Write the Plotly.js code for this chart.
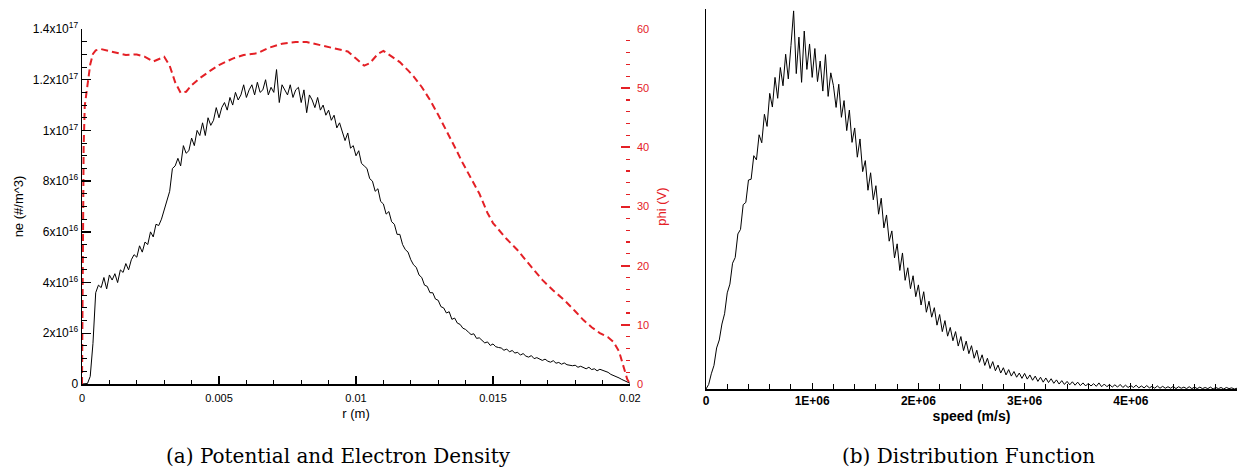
<!DOCTYPE html>
<html>
<head>
<meta charset="utf-8">
<script src="https://cdn.plot.ly/plotly-3.0.1.min.js"></script>
<style>
html,body{margin:0;padding:0;background:#fff;}
#chart{width:1239px;height:468px;}
</style>
</head>
<body>
<div id="chart"></div>
<script>
// ---------- (a) Potential and Electron Density ----------
// electron density, in units of 1e16 #/m^3, sampled every 0.0001 m from r = 0
const neStartR = 0;
const neStepR = 0.0001;
const neValues = [
0,0,0.02,0.3,1.6,3.6,3.9,3.8,4.2,3.75,
4.3,4.1,4.35,4.0,4.5,4.4,4.75,4.5,4.9,5.1,
5.0,5.45,5.2,5.6,5.5,6.0,5.8,6.3,6.25,6.5,
6.9,7.3,7.6,8.5,8.6,8.9,8.6,9.4,9.1,9.2,
9.7,9.4,10.0,9.8,10.3,9.8,10.5,10.2,10.4,10.9,
10.5,10.9,11.1,10.8,11.3,11.0,11.5,11.2,11.4,11.8,
11.3,11.6,11.8,11.4,11.9,11.5,11.6,12.0,11.4,11.7,
11.5,12.4,11.1,11.8,11.6,11.4,11.8,11.3,11.6,11.7,
11.1,11.6,10.7,11.4,11.2,10.9,11.3,10.8,11.0,10.6,
10.8,10.4,10.6,10.1,10.3,9.9,9.6,9.9,9.3,9.4,
9.0,9.2,8.7,8.6,8.5,8.1,8.0,7.6,7.7,7.2,
7.1,6.7,6.8,6.4,6.3,5.9,5.9,5.5,5.3,5.2,
4.9,4.7,4.6,4.3,4.2,3.9,3.85,3.6,3.6,3.35,
3.3,3.05,3.0,2.8,2.85,2.55,2.6,2.4,2.35,2.2,
2.15,2.05,1.95,1.98,1.8,1.82,1.7,1.62,1.66,1.52,
1.58,1.47,1.44,1.42,1.33,1.38,1.27,1.32,1.22,1.25,
1.14,1.2,1.1,1.06,1.12,1.0,1.04,0.98,0.93,0.98,
0.9,0.86,0.92,0.82,0.85,0.78,0.83,0.76,0.74,0.72,
0.74,0.66,0.7,0.64,0.6,0.66,0.57,0.6,0.52,0.58,
0.55,0.5,0.46,0.38,0.34,0.28,0.24,0.18,0.14,0.08,
0.03
];
// potential phi (V) vs r (m)
const phiR = [0,0.00003,0.00006,0.0001,0.0002,0.0003,0.0004,0.0005,0.0007,0.001,
0.0013,0.0016,0.002,0.0023,0.0026,0.0028,0.003,0.0032,0.0034,0.0036,
0.0038,0.004,0.0043,0.0047,0.005,0.0055,0.0059,0.0064,0.0068,0.0073,
0.0078,0.0082,0.0086,0.009,0.0094,0.0097,0.01,0.0103,0.0105,0.0108,
0.011,0.0113,0.0116,0.0119,0.0121,0.0124,0.0127,0.013,0.0133,0.0136,
0.0139,0.0142,0.0145,0.0148,0.015,0.0155,0.0159,0.0164,0.0168,0.0172,
0.0176,0.018,0.0183,0.0186,0.0189,0.0192,0.0194,0.0196,0.0197,0.0198,
0.0199,0.02];
const phiV = [0,20,40,47,51,54,55.8,56.4,56.6,56.3,
55.9,55.6,55.7,55.3,54.5,54.9,55.3,53.8,51.0,49.2,
49.4,50.5,51.7,53.0,53.9,55.0,55.6,55.9,56.8,57.5,
57.8,57.8,57.4,56.9,56.6,56.2,55.0,53.8,54.2,55.8,
56.3,55.4,54.4,53.0,52.0,50.2,48.0,45.5,42.9,40.1,
37.3,34.7,32.2,28.9,27.2,24.5,22.6,19.8,17.6,15.8,
14.2,12.3,10.8,9.6,8.6,7.9,7.1,5.5,4.0,2.5,
0.8,0];
const rTickVals = [0,0.005,0.01,0.015,0.02];
const rTickText = ['0','0.005','0.01','0.015','0.02'];
const neTickVals = [0,2,4,6,8,10,12,14];
const neTickText = ['0','2x10<sup>16</sup>','4x10<sup>16</sup>','6x10<sup>16</sup>','8x10<sup>16</sup>','1x10<sup>17</sup>','1.2x10<sup>17</sup>','1.4x10<sup>17</sup>'];
const phiTickVals = [0,10,20,30,40,50,60];

// ---------- (b) Distribution Function ----------
// distribution (arbitrary units), sampled every 25000 m/s from 0
const distStartV = 0;
const distStepV = 25000;
const distValues = [
0,1.2,4.0,6.2,10.8,12.9,17.1,19.8,25.3,27.6,
33.1,34.6,40.8,42.0,48.5,49.1,55.0,55.2,61.4,60.3,
66.9,64.8,72.3,69.1,77.8,74.2,82.0,76.5,84.6,79.8,
88.1,81.6,90.4,99.5,83.0,92.6,80.7,94.2,84.1,90.8,
82.0,89.6,80.9,86.3,78.4,88.0,77.0,83.2,79.8,74.1,
80.2,71.5,75.9,68.0,73.4,64.9,68.7,61.0,65.8,57.2,
60.1,52.3,56.9,49.8,53.5,46.0,50.2,42.4,45.8,38.9,
41.6,34.5,38.2,31.2,35.8,28.6,31.9,26.4,29.8,24.3,
27.4,22.1,25.6,20.2,23.1,18.9,21.4,16.8,19.6,15.1,
18.0,13.9,16.2,12.7,15.1,11.3,13.8,10.1,12.6,9.3,
11.4,8.1,10.2,7.0,9.0,6.2,8.1,5.4,7.2,4.8,
6.3,4.2,5.6,3.7,5.1,3.4,4.6,3.1,4.2,2.8,
4.1,2.6,3.7,2.3,3.4,2.0,3.1,1.8,2.9,1.7,
2.7,1.5,2.4,1.3,2.2,1.2,2.0,1.1,1.9,1.0,
1.8,0.9,1.6,0.8,1.5,0.8,1.4,0.7,1.6,0.6,
1.3,0.6,1.2,0.5,1.1,0.5,1.2,0.4,1.0,0.4,
0.9,0.4,1.0,0.3,0.8,0.3,0.9,0.3,0.7,0.2,
0.8,0.2,0.7,0.2,0.6,0.2,0.7,0.1,0.6,0.2,
0.5,0.1,0.6,0.1,0.5,0.1,0.5,0.1,0.4,0.1,
0.5,0.0,0.4,0.1,0.4,0.0,0.4,0.1,0.3,0.0,
0.2
];
const speedTickVals = [0,1e6,2e6,3e6,4e6];
const speedTickText = ['0','1E+06','2E+06','3E+06','4E+06'];

const RED = 'rgb(228,32,38)';
const W = 1239, H = 468;
const px = v => v / W, py = v => 1 - v / H;

const traces = [
  {x0: neStartR, dx: neStepR, y: neValues, type: 'scatter', mode: 'lines',
   line: {color: '#000', width: 1}, xaxis: 'x', yaxis: 'y', hoverinfo: 'skip'},
  {x: phiR, y: phiV, type: 'scatter', mode: 'lines',
   line: {color: RED, width: 2, dash: '7px,4px'}, xaxis: 'x', yaxis: 'y2', hoverinfo: 'skip'},
  {x0: distStartV, dx: distStepV, y: distValues, type: 'scatter', mode: 'lines',
   line: {color: '#000', width: 1}, xaxis: 'x3', yaxis: 'y3', hoverinfo: 'skip'}
];

const sans = 'Liberation Sans, Arial, sans-serif';
const serif = 'DejaVu Serif, Liberation Serif, serif';
const layout = {
  width: W, height: H,
  margin: {l: 0, r: 0, t: 0, b: 0},
  paper_bgcolor: '#fff', plot_bgcolor: 'rgba(0,0,0,0)',
  showlegend: false,
  font: {family: sans, color: '#000', size: 11},
  xaxis: {
    domain: [px(82), px(630)], range: [0, 0.02], anchor: 'y',
    showgrid: false, zeroline: false, showline: true, linecolor: '#000', linewidth: 1.5,
    ticks: 'inside', ticklen: 8, tickwidth: 1.5, tickcolor: '#000',
    tickvals: rTickVals, ticktext: rTickText, tickfont: {size: 11, family: sans},
    ticklabelstandoff: 3,
    minor: {dtick: 0.001, ticks: 'inside', ticklen: 4, tickcolor: '#000', tickwidth: 1},
    title: {text: 'r (m)', font: {size: 13, family: sans}, standoff: 6}
  },
  yaxis: {
    domain: [1 - 384 / H, 1 - 29 / H], range: [0, 14], anchor: 'x',
    showgrid: false, zeroline: false, showline: true, linecolor: '#000', linewidth: 1.5,
    ticks: 'inside', ticklen: 9, tickwidth: 1.5, tickcolor: '#000',
    tickvals: neTickVals, ticktext: neTickText, tickfont: {size: 12, family: sans},
    minor: {dtick: 0.5, ticks: 'inside', ticklen: 5, tickcolor: '#000', tickwidth: 1},
    title: {text: 'ne (#/m^3)', font: {size: 13, family: sans}, standoff: 6}
  },
  yaxis2: {
    overlaying: 'y', side: 'right', anchor: 'x', range: [0, 60],
    showgrid: false, zeroline: false, showline: false,
    ticks: 'inside', ticklen: 9, tickwidth: 2, tickcolor: RED,
    tickvals: phiTickVals, tickfont: {size: 11, color: RED, family: sans},
    ticklabelstandoff: 6,
    minor: {dtick: 2, ticks: 'inside', ticklen: 4, tickcolor: RED, tickwidth: 1.2},
    title: {text: 'phi (V)', font: {size: 13, color: RED, family: sans}, standoff: 8}
  },
  xaxis3: {
    domain: [px(706), px(1237)], range: [0, 5e6], anchor: 'y3',
    showgrid: false, zeroline: false, showline: true, linecolor: '#000', linewidth: 1.5,
    ticks: 'inside', ticklen: 6, tickwidth: 1, tickcolor: '#000',
    tickvals: speedTickVals, ticktext: speedTickText,
    tickfont: {size: 12, family: sans, weight: 'bold'},
    minor: {dtick: 2e5, ticks: 'inside', ticklen: 5, tickcolor: '#000', tickwidth: 1},
    title: {text: 'speed (m/s)', font: {size: 14, family: sans, weight: 'bold'}, standoff: 0}
  },
  yaxis3: {
    domain: [1 - 389 / H, 1 - 9 / H], range: [0, 100], anchor: 'x3',
    showgrid: false, zeroline: false, showline: true, linecolor: '#000', linewidth: 1.5,
    ticks: '', showticklabels: false
  },
  annotations: [
    {text: '(a) Potential and Electron Density', xref: 'paper', yref: 'paper',
     x: px(338), y: py(456), xanchor: 'center', yanchor: 'middle', showarrow: false,
     font: {family: serif, size: 20, color: '#000'}},
    {text: '(b) Distribution Function', xref: 'paper', yref: 'paper',
     x: px(968), y: py(456), xanchor: 'center', yanchor: 'middle', showarrow: false,
     font: {family: serif, size: 20, color: '#000'}}
  ]
};

Plotly.newPlot('chart', traces, layout, {staticPlot: true, displayModeBar: false});
</script>
</body>
</html>
